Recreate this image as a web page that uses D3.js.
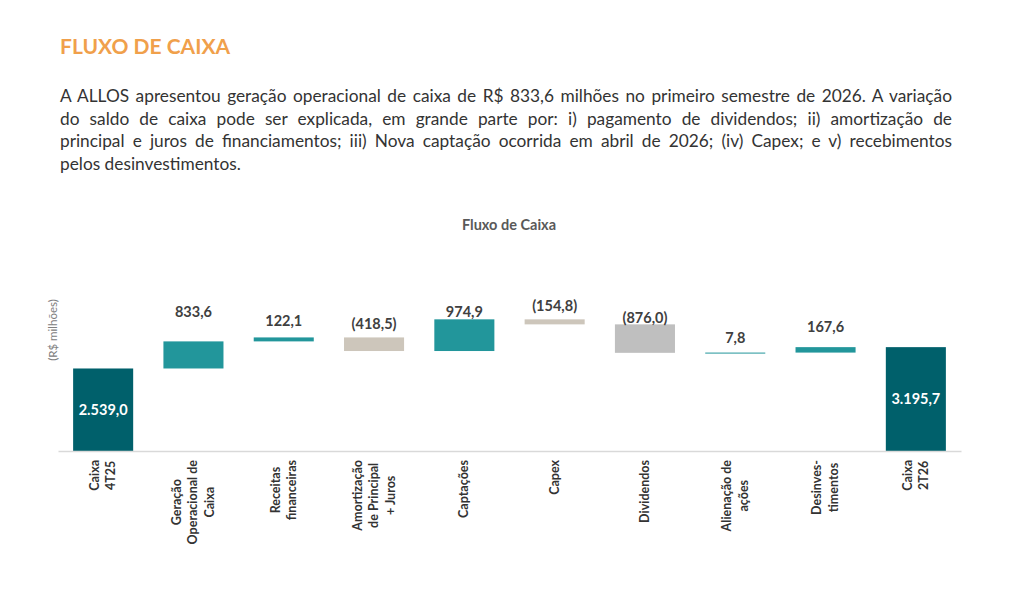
<!DOCTYPE html>
<html>
<head>
<meta charset="utf-8">
<script src="https://cdn.jsdelivr.net/npm/d3@7"></script>
<style>
  body { margin: 0; background: #fff; font-family: Lato, "Open Sans", sans-serif; }
  #page { position: relative; width: 1024px; height: 589px; }
  h1 { position: absolute; left: 60px; top: 33px; margin: 0; font-size: 21px; font-weight: 700; color: #f0a04b; }
  .intro { position: absolute; left: 60px; top: 85px; width: 892px; font-size: 17.3px; line-height: 22.5px; color: #333; }
  .intro div { text-align: justify; text-align-last: justify; white-space: nowrap; }
  .intro div.last { text-align-last: left; }
  svg { position: absolute; left: 0; top: 0; }
</style>
</head>
<body>
<div id="page">
  <h1>FLUXO DE CAIXA</h1>
  <div class="intro">
    <div>A ALLOS apresentou geração operacional de caixa de R$ 833,6 milhões no primeiro semestre de 2026. A variação</div>
    <div>do saldo de caixa pode ser explicada, em grande parte por: i) pagamento de dividendos; ii) amortização de</div>
    <div>principal e juros de financiamentos; iii) Nova captação ocorrida em abril de 2026; (iv) Capex; e v) recebimentos</div>
    <div class="last">pelos desinvestimentos.</div>
  </div>
  <div id="chart"></div>
</div>
<script>
// categories (line breaks as in the original labels)
const categories = [
  ['Caixa', '4T25'],
  ['Geração', 'Operacional de', 'Caixa'],
  ['Receitas', 'financeiras'],
  ['Amortização', 'de Principal', '+ Juros'],
  ['Captações'],
  ['Capex'],
  ['Dividendos'],
  ['Alienação de', 'ações'],
  ['Desinves-', 'timentos'],
  ['Caixa', '2T26']
];
// R$ milhões; totals are absolute balances, the rest are movements
const values = [2539.0, 833.6, 122.1, -418.5, 974.9, -154.8, -876.0, 7.8, 167.6, 3195.7];
const kinds = ['total', 'up', 'up', 'down', 'up', 'down', 'div', 'up', 'up', 'total'];
const valueLabels = ['2.539,0', '833,6', '122,1', '(418,5)', '974,9', '(154,8)', '(876,0)', '7,8', '167,6', '3.195,7'];

const colors = { total: '#00606b', up: '#22969b', down: '#cdc6bb', div: '#bfbfbf' };
// the source chart's labels sit at uneven heights over the bars
const labelGap = [0, 29, 16, 13, 7, 13, 6, 15, 20, 0];

const width = 1024, height = 589;
const baseY = 451;

let run = 0;
const steps = values.map((v, i) => {
  let y0, y1;
  if (kinds[i] === 'total') { y0 = 0; y1 = v; run = v; }
  else { y0 = run; y1 = run + v; run = y1; }
  return { i, lo: Math.min(y0, y1), hi: Math.max(y0, y1), kind: kinds[i], label: valueLabels[i], cat: categories[i] };
});

const x = d3.scaleBand().domain(d3.range(categories.length)).range([58, 961]).paddingInner(0.335).paddingOuter(0.1675);
const y = d3.scaleLinear().domain([0, 6000]).range([baseY, baseY - 195]);

const svg = d3.select('#chart').append('svg')
  .attr('width', width)
  .attr('height', height);

// Title
svg.append('text')
  .attr('x', 509)
  .attr('y', 230)
  .attr('text-anchor', 'middle')
  .attr('font-size', 14.5)
  .attr('font-weight', 700)
  .attr('fill', '#595959')
  .text('Fluxo de Caixa');

// Y axis title
svg.append('text')
  .attr('transform', `translate(57,330) rotate(-90)`)
  .attr('text-anchor', 'middle')
  .attr('font-size', 11.5)
  .attr('fill', '#808080')
  .text('(R$ milhões)');

// Bars
svg.append('g')
  .selectAll('rect')
  .data(steps)
  .enter().append('rect')
  .attr('x', d => x(d.i))
  .attr('width', x.bandwidth())
  .attr('y', d => y(d.hi))
  .attr('height', d => Math.max(1, y(d.lo) - y(d.hi)))
  .attr('fill', d => colors[d.kind]);

// X axis line
svg.append('g')
  .attr('transform', `translate(0,${baseY})`)
  .call(d3.axisBottom(x).tickSize(0).tickFormat(''))
  .call(g => g.select('.domain').attr('stroke', '#d9d9d9').attr('stroke-width', 1.3));

// Value labels
svg.append('g')
  .selectAll('text')
  .data(steps)
  .enter().append('text')
  .attr('x', d => x(d.i) + x.bandwidth() / 2)
  .attr('y', d => d.kind === 'total' ? (y(d.hi) + y(d.lo)) / 2 + 5 : y(d.hi) - labelGap[d.i] + 5)
  .attr('text-anchor', 'middle')
  .attr('font-size', 14.5)
  .attr('font-weight', 700)
  .attr('fill', d => d.kind === 'total' ? '#fff' : '#404040')
  .text(d => d.label);

// Category labels, rotated, block aligned at the top, lines centred
const catG = svg.append('g')
  .selectAll('g')
  .data(steps)
  .enter().append('g');

catG.each(function(d) {
  const g = d3.select(this);
  const n = d.cat.length;
  const cx = x(d.i) + x.bandwidth() / 2;
  const lineH = 16.5;
  const texts = d.cat.map(line => g.append('text')
    .attr('font-size', 12.5)
    .attr('font-weight', 700)
    .attr('fill', '#333')
    .attr('text-anchor', 'middle')
    .text(line));
  const maxLen = d3.max(texts, t => t.node().getComputedTextLength());
  texts.forEach((t, k) => {
    const lx = cx + (k - (n - 1) / 2) * lineH + 4;
    t.attr('transform', `translate(${lx},${460 + maxLen / 2}) rotate(-90)`);
  });
});
</script>
</body>
</html>
